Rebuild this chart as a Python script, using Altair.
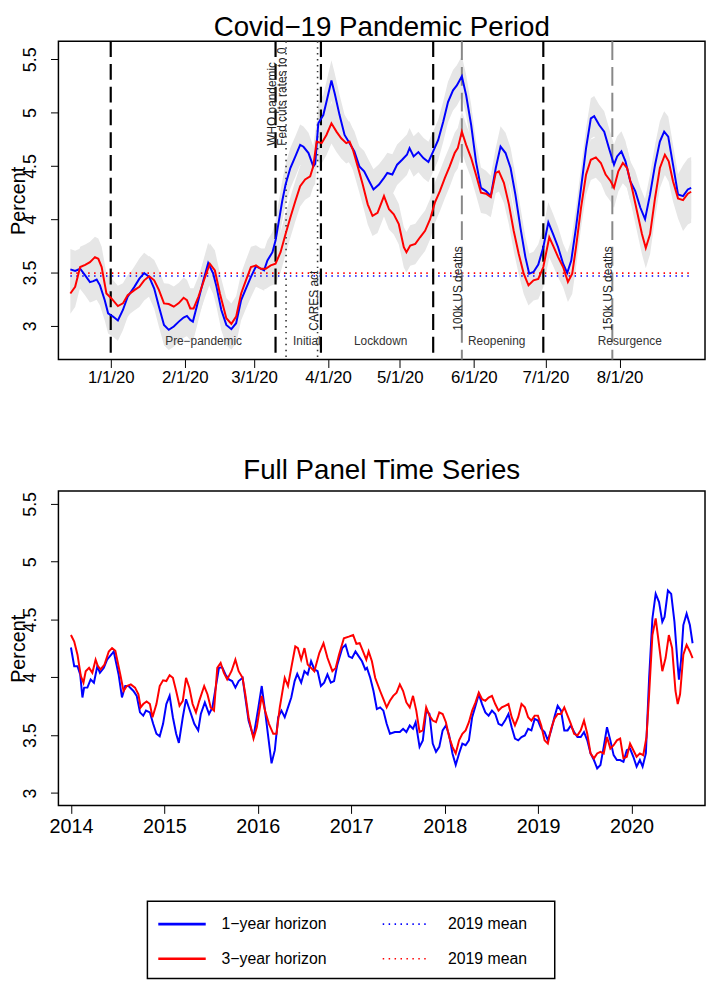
import altair as alt
import pandas as pd

FONT = "Liberation Sans"

# ---------------- Top panel: days since 2020-01-01 ----------------
top_tick_days = [0, 31, 60, 91, 121, 152, 182, 213]
top_tick_labels = ["1/1/20", "2/1/20", "3/1/20", "4/1/20", "5/1/20", "6/1/20", "7/1/20", "8/1/20"]

blue_days = [-16.9, -14.9, -12.8, -10.7, -8.7, -7.3, -5.9, -4.5, -2.5, -1.1, 0.95, 3.0, 5.1, 7.1, 9.9,
             12.0, 14.0, 16.1, 18.2, 20.2, 22.3, 24.3, 26.4, 28.5, 30.5, 31.9, 33.3, 34.4, 36.0, 38.8,
             40.8, 42.9, 44.3, 46.3, 48.4, 50.5, 52.5, 54.6, 56.6, 58.7, 60.8, 62.8, 64.2, 65.6, 67.7,
             69.0, 70.4, 71.8, 73.2, 75.2, 77.3, 79.3, 80.7, 82.8, 84.8, 85.6, 86.9, 89.0, 90.3, 92.4,
             93.8, 95.8, 97.9, 100.0, 102.0, 104.1, 106.1, 108.2, 110.0, 112.3, 114.4, 115.8, 117.9,
             119.9, 122.0, 124.0, 125.1, 126.8, 128.8, 130.9, 133.0, 135.0, 137.1, 139.2, 141.2, 143.3,
             144.9, 147.0, 148.8, 150.9, 152.9, 155.0, 157.1, 159.1, 161.2, 163.2, 165.3, 167.4, 169.4,
             171.5, 173.6, 175.2, 177.0, 179.0, 181.1, 183.2, 185.2, 187.3, 189.4, 191.1, 192.8, 194.8,
             196.9, 199.0, 201.0, 202.4, 204.5, 206.6, 208.6, 210.7, 212.0, 213.8, 215.5, 217.5, 219.6,
             221.7, 223.7, 225.8, 227.9, 229.9, 231.7, 233.4, 235.4, 237.5, 239.6, 241.6, 243.0]
blue_vals = [3.53, 3.515, 3.536, 3.474, 3.41, 3.42, 3.434, 3.38, 3.24, 3.118, 3.087, 3.05, 3.149, 3.273, 3.366,
             3.443, 3.496, 3.459, 3.35, 3.18, 3.009, 2.963, 2.994, 3.04, 3.078, 3.093, 3.056, 3.04, 3.18, 3.427,
             3.59, 3.49, 3.366, 3.149, 3.009, 2.969, 3.025, 3.242, 3.35, 3.459, 3.558, 3.536, 3.52, 3.613, 3.691,
             3.80, 3.985, 4.171, 4.326, 4.481, 4.589, 4.698, 4.68, 4.621, 4.496, 4.52, 4.90, 4.977, 5.10, 5.302,
             5.178, 4.977, 4.791, 4.714, 4.636, 4.496, 4.45, 4.357, 4.28, 4.326, 4.388, 4.434, 4.42,
             4.512, 4.558, 4.605, 4.667, 4.589, 4.63, 4.574, 4.537, 4.636, 4.744, 4.915, 5.10, 5.209,
             5.255, 5.342, 5.163, 4.884, 4.543, 4.295, 4.264, 4.217, 4.481, 4.682, 4.621, 4.481, 4.233,
             3.924, 3.645, 3.49, 3.505, 3.575, 3.738, 3.97, 3.861, 3.738, 3.583, 3.496, 3.613, 3.924,
             4.295, 4.667, 4.946, 4.967, 4.884, 4.822, 4.667, 4.512, 4.589, 4.636, 4.543, 4.357, 4.264,
             4.11, 4.001, 4.233, 4.512, 4.729, 4.822, 4.775, 4.512, 4.233, 4.217, 4.28, 4.295]

red_days = [-16.9, -14.9, -12.8, -10.7, -8.7, -6.6, -5.2, -3.8, -1.8, 0.3, 3.0, 5.1, 7.1, 9.9, 12.0,
            14.0, 16.1, 18.2, 20.2, 22.3, 24.3, 26.4, 28.5, 30.5, 31.9, 33.3, 34.7, 36.7, 39.5, 41.5,
            43.6, 45.7, 48.4, 50.5, 52.5, 54.6, 56.6, 58.7, 60.8, 62.8, 64.9, 67.0, 69.0, 71.1, 73.2,
            75.2, 77.3, 79.3, 81.4, 83.5, 84.8, 86.2, 88.3, 90.3, 92.4, 94.5, 96.5, 98.6, 100.0, 101.4,
            103.4, 105.5, 107.6, 109.6, 111.7, 114.4, 116.5, 118.5, 120.6, 122.7, 123.8, 125.4, 127.5,
            129.5, 131.6, 133.7, 135.7, 137.8, 139.9, 141.9, 144.0, 145.3, 147.0, 148.8, 150.9, 152.9,
            155.0, 157.1, 159.1, 161.2, 162.5, 164.6, 166.7, 168.7, 170.8, 172.9, 174.9, 177.0, 179.0,
            181.1, 183.6, 185.2, 187.3, 189.4, 191.4, 193.2, 194.8, 196.9, 199.0, 201.0, 203.1, 205.2,
            207.2, 209.3, 210.7, 212.5, 214.4, 216.2, 218.2, 220.3, 222.4, 224.0, 225.8, 227.9, 229.9,
            232.0, 233.6, 235.4, 237.5, 239.6, 241.6, 243.0]
red_vals = [3.304, 3.366, 3.552, 3.573, 3.598, 3.645, 3.629, 3.552, 3.304, 3.257, 3.186, 3.211, 3.288, 3.335, 3.366,
            3.427, 3.465, 3.427, 3.335, 3.211, 3.205, 3.18, 3.214, 3.264, 3.242, 3.164, 3.164, 3.273, 3.459, 3.583,
            3.52, 3.304, 3.072, 3.019, 3.087, 3.304, 3.427, 3.552, 3.567, 3.536, 3.536, 3.567, 3.583, 3.691, 3.861,
            4.017, 4.171, 4.31, 4.373, 4.403, 4.496, 4.729, 4.714, 4.791, 4.90, 4.822, 4.76, 4.714, 4.729, 4.652,
            4.496, 4.326, 4.14, 4.032, 4.06, 4.217, 4.094, 4.047, 3.954, 3.738, 3.691, 3.753, 3.769,
            3.831, 3.892, 4.001, 4.156, 4.264, 4.388, 4.496, 4.621, 4.667, 4.822, 4.698, 4.574, 4.419,
            4.249, 4.24, 4.208, 4.435, 4.45, 4.342, 4.14, 3.892, 3.676, 3.49, 3.381, 3.427, 3.44,
            3.552, 3.831, 3.753, 3.645, 3.552, 3.413, 3.49, 3.738, 4.11, 4.419, 4.558, 4.58, 4.528,
            4.419, 4.357, 4.295, 4.45, 4.528, 4.481, 4.295, 4.078, 3.861, 3.731, 3.861, 4.202, 4.481,
            4.605, 4.543, 4.357, 4.196, 4.18, 4.24, 4.258]

ci_half = 0.19          # half-width of the grey confidence band
ci_half_end = 0.29      # wider band over the last few days
ci_end_from = 238

mean_2019_1y = 3.468
mean_2019_3y = 3.495

phase_line_days = [0, 69.0, 88.0, 135.0, 181.1]     # black dashed
policy_line_days = [73.4, 86.6]                      # black dotted
death_line_days = [147.0, 210.0]                     # grey dashed

event_labels = ["WHO pandemic", "Fed cuts rates to 0", "CARES act", "100k US deaths", "150k US deaths"]
event_label_days = [69.0, 73.4, 86.6, 147.0, 210.0]
event_label_vals = [4.69, 4.69, 2.955, 2.955, 2.955]

phase_labels = ["Pre\u2212pandemic", "Initial", "Lockdown", "Reopening", "Resurgence"]
phase_label_days = [38.9, 82.1, 113.0, 161.6, 217.3]
phase_label_val = 2.855

# ---------------- Bottom panel: decimal years ----------------
full_blue_years = [2014.000, 2014.035, 2014.070, 2014.099, 2014.123, 2014.141, 2014.176, 2014.211, 2014.246,
                   2014.282, 2014.310, 2014.352, 2014.387, 2014.440, 2014.458, 2014.510, 2014.546, 2014.581,
                   2014.616, 2014.669, 2014.704, 2014.739, 2014.774, 2014.803, 2014.845, 2014.880, 2014.915,
                   2014.950, 2014.986, 2015.021, 2015.056, 2015.091, 2015.126, 2015.155, 2015.197, 2015.232,
                   2015.285, 2015.320, 2015.362, 2015.390, 2015.433, 2015.478, 2015.514, 2015.549, 2015.584,
                   2015.619, 2015.654, 2015.690, 2015.725, 2015.760, 2015.795, 2015.837, 2015.866, 2015.901,
                   2015.954, 2016.006, 2016.042, 2016.077, 2016.112, 2016.147, 2016.182, 2016.218, 2016.253,
                   2016.288, 2016.323, 2016.358, 2016.394, 2016.422, 2016.464, 2016.499, 2016.534, 2016.570,
                   2016.605, 2016.640, 2016.675, 2016.710, 2016.745, 2016.781, 2016.816, 2016.851, 2016.904,
                   2016.939, 2016.974, 2017.009, 2017.045, 2017.080, 2017.115, 2017.150, 2017.168, 2017.203,
                   2017.238, 2017.274, 2017.309, 2017.344, 2017.379, 2017.414, 2017.467, 2017.520, 2017.555,
                   2017.590, 2017.626, 2017.661, 2017.689, 2017.731, 2017.766, 2017.802, 2017.837, 2017.872,
                   2017.907, 2017.942, 2017.978, 2018.013, 2018.048, 2018.083, 2018.118, 2018.154, 2018.189,
                   2018.224, 2018.259, 2018.294, 2018.330, 2018.365, 2018.400, 2018.435, 2018.470, 2018.506,
                   2018.541, 2018.576, 2018.611, 2018.646, 2018.682, 2018.717, 2018.752, 2018.787, 2018.822,
                   2018.858, 2018.893, 2018.928, 2018.963, 2018.998, 2019.033, 2019.069, 2019.104, 2019.139,
                   2019.174, 2019.209, 2019.245, 2019.280, 2019.315, 2019.350, 2019.385, 2019.421, 2019.456,
                   2019.491, 2019.526, 2019.561, 2019.597, 2019.632, 2019.667, 2019.702, 2019.737, 2019.773,
                   2019.808, 2019.843, 2019.878, 2019.913, 2019.949, 2019.984, 2020.019, 2020.054, 2020.089,
                   2020.118, 2020.153, 2020.188, 2020.223, 2020.258, 2020.294, 2020.329, 2020.353, 2020.389,
                   2020.424, 2020.459, 2020.494, 2020.507, 2020.530, 2020.554, 2020.589, 2020.624, 2020.653]
full_blue_vals = [4.258, 4.096, 4.096, 4.025, 3.826, 3.911, 3.911, 3.982, 3.954,
                  4.096, 4.039, 4.082, 4.153, 4.204, 4.224, 4.025, 3.826, 3.925,
                  3.925, 3.882, 3.840, 3.697, 3.669, 3.712, 3.697, 3.598, 3.512,
                  3.490, 3.598, 3.769, 3.840, 3.655, 3.512, 3.433, 3.655, 3.811,
                  3.683, 3.598, 3.541, 3.683, 3.783, 3.683, 3.740, 3.911, 4.082,
                  4.087, 4.025, 3.982, 3.968, 3.911, 3.968, 3.996, 3.826, 3.626,
                  3.484, 3.740, 3.925, 3.712, 3.484, 3.256, 3.370, 3.655, 3.712,
                  3.655, 3.740, 3.826, 3.968, 4.030, 3.954, 4.053, 4.025, 4.139,
                  4.068, 4.053, 3.925, 3.954, 4.025, 3.954, 3.968, 4.110, 4.253,
                  4.281, 4.181, 4.167, 4.224, 4.181, 4.139, 4.068, 4.082, 3.996,
                  3.882, 3.726, 3.740, 3.712, 3.598, 3.512, 3.527, 3.527, 3.555,
                  3.527, 3.584, 3.555, 3.612, 3.399, 3.455, 3.712, 3.683, 3.427,
                  3.356, 3.399, 3.541, 3.584, 3.498, 3.342, 3.242, 3.342, 3.427,
                  3.413, 3.455, 3.655, 3.754, 3.854, 3.769, 3.697, 3.669, 3.712,
                  3.683, 3.598, 3.584, 3.626, 3.683, 3.569, 3.470, 3.455, 3.484,
                  3.498, 3.555, 3.541, 3.640, 3.626, 3.555, 3.527, 3.455, 3.541,
                  3.655, 3.754, 3.712, 3.541, 3.541, 3.584, 3.527, 3.484, 3.484,
                  3.527, 3.455, 3.342, 3.285, 3.213, 3.242, 3.399, 3.569, 3.455,
                  3.327, 3.285, 3.285, 3.270, 3.370, 3.384, 3.313, 3.228, 3.285,
                  3.228, 3.342, 3.996, 4.509, 4.722, 4.651, 4.480, 4.523, 4.751,
                  4.722, 4.480, 4.100, 3.980, 4.150, 4.452, 4.551, 4.452, 4.295]

full_red_years = [2014.000, 2014.035, 2014.070, 2014.106, 2014.134, 2014.158, 2014.194, 2014.229, 2014.264,
                  2014.289, 2014.317, 2014.359, 2014.405, 2014.440, 2014.475, 2014.528, 2014.563, 2014.598,
                  2014.641, 2014.686, 2014.722, 2014.746, 2014.774, 2014.810, 2014.845, 2014.873, 2014.915,
                  2014.950, 2014.986, 2015.021, 2015.056, 2015.091, 2015.126, 2015.162, 2015.197, 2015.232,
                  2015.267, 2015.302, 2015.338, 2015.373, 2015.426, 2015.461, 2015.496, 2015.531, 2015.566,
                  2015.602, 2015.637, 2015.672, 2015.718, 2015.760, 2015.795, 2015.837, 2015.866, 2015.901,
                  2015.954, 2015.989, 2016.042, 2016.077, 2016.119, 2016.165, 2016.200, 2016.235, 2016.288,
                  2016.323, 2016.358, 2016.401, 2016.429, 2016.464, 2016.499, 2016.534, 2016.570, 2016.605,
                  2016.658, 2016.703, 2016.746, 2016.798, 2016.834, 2016.869, 2016.921, 2016.974, 2017.020,
                  2017.055, 2017.090, 2017.126, 2017.161, 2017.186, 2017.221, 2017.256, 2017.309, 2017.344,
                  2017.379, 2017.414, 2017.449, 2017.485, 2017.520, 2017.555, 2017.590, 2017.626, 2017.661,
                  2017.696, 2017.731, 2017.766, 2017.802, 2017.837, 2017.872, 2017.907, 2017.942, 2017.978,
                  2018.013, 2018.048, 2018.083, 2018.118, 2018.154, 2018.189, 2018.224, 2018.259, 2018.294,
                  2018.330, 2018.365, 2018.400, 2018.435, 2018.470, 2018.506, 2018.541, 2018.576, 2018.611,
                  2018.646, 2018.682, 2018.717, 2018.752, 2018.787, 2018.822, 2018.858, 2018.893, 2018.928,
                  2018.963, 2018.998, 2019.033, 2019.069, 2019.104, 2019.139, 2019.174, 2019.209, 2019.245,
                  2019.280, 2019.315, 2019.350, 2019.385, 2019.421, 2019.456, 2019.491, 2019.526, 2019.561,
                  2019.597, 2019.632, 2019.667, 2019.702, 2019.737, 2019.773, 2019.808, 2019.843, 2019.878,
                  2019.913, 2019.949, 2019.984, 2020.019, 2020.054, 2020.089, 2020.125, 2020.160, 2020.188,
                  2020.223, 2020.258, 2020.294, 2020.329, 2020.364, 2020.399, 2020.434, 2020.470, 2020.494,
                  2020.519, 2020.554, 2020.589, 2020.624, 2020.653]
full_red_vals = [4.366, 4.309, 4.196, 4.011, 3.954, 4.053, 4.082, 4.039, 4.153,
                 4.096, 4.068, 4.110, 4.224, 4.253, 4.230, 4.025, 3.882, 3.925,
                 3.939, 3.911, 3.854, 3.740, 3.769, 3.791, 3.769, 3.655, 3.769,
                 3.925, 3.974, 3.968, 4.019, 3.996, 3.882, 3.754, 3.797, 3.996,
                 3.911, 3.769, 3.697, 3.797, 3.925, 3.854, 3.740, 3.712, 4.082,
                 4.124, 4.039, 3.982, 4.053, 4.153, 4.053, 3.996, 3.854, 3.655,
                 3.470, 3.569, 3.840, 3.712, 3.598, 3.512, 3.512, 3.740, 3.996,
                 3.925, 4.082, 4.267, 4.253, 4.153, 4.253, 4.110, 4.082, 4.053,
                 4.210, 4.295, 4.167, 4.053, 4.082, 4.196, 4.338, 4.352, 4.366,
                 4.290, 4.295, 4.224, 4.153, 4.224, 4.139, 3.996, 3.882, 3.811,
                 3.740, 3.797, 3.840, 3.868, 3.939, 3.882, 3.783, 3.740, 3.840,
                 3.712, 3.527, 3.541, 3.740, 3.669, 3.626, 3.612, 3.697, 3.683,
                 3.612, 3.484, 3.399, 3.342, 3.455, 3.512, 3.541, 3.612, 3.712,
                 3.783, 3.868, 3.811, 3.797, 3.825, 3.840, 3.769, 3.712, 3.740,
                 3.754, 3.769, 3.655, 3.584, 3.655, 3.769, 3.740, 3.655, 3.626,
                 3.669, 3.669, 3.584, 3.455, 3.427, 3.555, 3.640, 3.683, 3.683,
                 3.740, 3.669, 3.598, 3.512, 3.498, 3.541, 3.626, 3.512, 3.342,
                 3.299, 3.342, 3.356, 3.342, 3.484, 3.384, 3.413, 3.455, 3.470,
                 3.299, 3.313, 3.427, 3.370, 3.313, 3.342, 3.327, 3.484, 3.854,
                 4.366, 4.509, 4.281, 4.053, 4.167, 4.366, 4.253, 3.882, 3.769,
                 3.854, 4.196, 4.281, 4.224, 4.167]

full_tick_years = [2014, 2015, 2016, 2017, 2018, 2019, 2020]
y_ticks = [3, 3.5, 4, 4.5, 5, 5.5]

titles = ["Covid\u221219 Pandemic Period", "Full Panel Time Series"]
series_names = ["1-year horizon", "3-year horizon"]
series_colors = ["#0000ff", "#ff0000"]
legend_labels = ["1\u2212year horizon", "3\u2212year horizon", "2019 mean", "2019 mean"]

# ---------------- tables ----------------
top_df = pd.concat([
    pd.DataFrame({"day": blue_days, "value": blue_vals, "series": series_names[0]}),
    pd.DataFrame({"day": red_days, "value": red_vals, "series": series_names[1]}),
], ignore_index=True)
top_df["hw"] = [ci_half_end if d >= ci_end_from else ci_half for d in top_df["day"]]
top_df["lo"] = top_df["value"] - top_df["hw"]
top_df["hi"] = top_df["value"] + top_df["hw"]

day_min = min(blue_days[0], red_days[0])
day_max = max(blue_days[-1], red_days[-1])
means_df = pd.DataFrame({"day": [day_min, day_min], "day_end": [day_max, day_max],
                         "value": [mean_2019_1y, mean_2019_3y], "series": series_names})

full_df = pd.concat([
    pd.DataFrame({"year": full_blue_years, "value": full_blue_vals, "series": series_names[0]}),
    pd.DataFrame({"year": full_red_years, "value": full_red_vals, "series": series_names[1]}),
], ignore_index=True)

color_scale = alt.Scale(domain=series_names, range=series_colors)
one_row = pd.DataFrame({"k": [0]})

# ---------------- axes ----------------
label_expr = ("[" + ",".join("'%s'" % l for l in top_tick_labels) + "][indexof(["
              + ",".join(str(d) for d in top_tick_days) + "], datum.value)]")

common_axis = dict(domain=False, grid=False, ticks=True, tickColor="black", tickSize=8, tickWidth=1,
                   labelColor="black", labelFont=FONT, labelFlush=False, labelOverlap=False)

top_x_axis = alt.Axis(values=top_tick_days, labelExpr=label_expr, labelFontSize=17, labelPadding=2,
                      title=None, **common_axis)
TOP_H = 322
BOT_H = 318
W = 654


def y_axis(h):
    return alt.Axis(values=y_ticks, format="~g", labelAngle=270, labelAlign="center",
                    labelBaseline="middle", labelPadding=20, labelFontSize=18,
                    title="Percent", titleFont=FONT, titleFontSize=20, titleFontWeight="normal",
                    titleColor="black", titleAngle=270, titleAlign="center", titleBaseline="top",
                    titleX=-50, titleY=h / 2, **common_axis)


def panel_title(text, baseline_offset, size):
    # title text placed just above the plot frame
    return alt.Chart(one_row).mark_text(
        align="center", baseline="alphabetic", fontSize=size, font=FONT, color="black").encode(
        x=alt.value(W / 2), y=alt.value(-baseline_offset), text=alt.value(text))


top_yscale = alt.Scale(domain=[2.684, 5.670], nice=False, zero=False)
xt = alt.X("day:Q", scale=alt.Scale(domain=[-21.9, 248.8], nice=False, zero=False), axis=top_x_axis)
yt = alt.Y("value:Q", scale=top_yscale, axis=y_axis(TOP_H))

band = alt.Chart(top_df).mark_area(color="#e6e6e6", opacity=1).encode(
    x=xt, y=alt.Y("lo:Q", scale=top_yscale, axis=y_axis(TOP_H)), y2="hi:Q", detail="series:N")

mean_rules = alt.Chart(means_df).mark_rule(strokeWidth=1.6, strokeDash=[1.5, 4.5]).encode(
    x=xt, x2="day_end:Q", y=yt, color=alt.Color("series:N", scale=color_scale, legend=None))

phase_rules = alt.Chart(pd.DataFrame({"day": phase_line_days})).mark_rule(
    color="black", strokeWidth=2.2, strokeDash=[16, 7]).encode(x=xt)
policy_rules = alt.Chart(pd.DataFrame({"day": policy_line_days})).mark_rule(
    color="#333333", strokeWidth=1.6, strokeDash=[1.5, 4.5]).encode(x=xt)
death_rules = alt.Chart(pd.DataFrame({"day": death_line_days})).mark_rule(
    color="#888888", strokeWidth=2, strokeDash=[19, 7]).encode(x=xt)

top_lines = alt.Chart(top_df).mark_line(strokeWidth=2).encode(
    x=xt, y=yt, color=alt.Color("series:N", scale=color_scale, legend=None))

event_text = alt.Chart(pd.DataFrame({"day": event_label_days, "value": event_label_vals,
                                     "label": event_labels})).mark_text(
    angle=270, align="left", baseline="alphabetic", fontSize=12, font=FONT, color="#222222").encode(
    x=xt, y=yt, text="label:N")

phase_text = alt.Chart(pd.DataFrame({"day": phase_label_days, "value": [phase_label_val] * len(phase_labels),
                                     "label": phase_labels})).mark_text(
    align="center", baseline="middle", fontSize=12, font=FONT, color="#333333").encode(
    x=xt, y=yt, text="label:N")

top = alt.layer(band, mean_rules, phase_rules, policy_rules, death_rules, top_lines,
                event_text, phase_text, panel_title(titles[0], 5, 28)).properties(width=W, height=TOP_H)

# ---------------- bottom panel ----------------
xb = alt.X("year:Q", scale=alt.Scale(domain=[2013.866, 2020.786], nice=False, zero=False),
           axis=alt.Axis(values=full_tick_years, format="d", labelFontSize=20, labelPadding=3,
                         title=None, **common_axis))
yb = alt.Y("value:Q", scale=alt.Scale(domain=[2.892, 5.611], nice=False, zero=False), axis=y_axis(BOT_H))

bottom_lines = alt.Chart(full_df).mark_line(strokeWidth=2).encode(
    x=xb, y=yb, color=alt.Color("series:N", scale=color_scale, legend=None))
bottom = alt.layer(bottom_lines, panel_title(titles[1], 12, 28)).properties(width=W, height=BOT_H)

# ---------------- legend box ----------------
hidden_view = alt.ViewBackground(strokeOpacity=0)
legend_box = alt.Chart(one_row).mark_rect(
    fill="white", stroke="black", strokeWidth=1.5).encode(
    x=alt.value(90), x2=alt.value(502), y=alt.value(65), y2=alt.value(143))
leg_layers = [legend_box]
rows_y = [88, 123]
for i in range(2):
    leg_layers.append(alt.Chart(one_row).mark_rule(
        color=series_colors[i], strokeWidth=2.6).encode(
        x=alt.value(101), x2=alt.value(149), y=alt.value(rows_y[i])))
    leg_layers.append(alt.Chart(one_row).mark_text(
        align="left", baseline="middle", fontSize=16, font=FONT, color="black").encode(
        x=alt.value(165), y=alt.value(rows_y[i]), text=alt.value(legend_labels[i])))
    leg_layers.append(alt.Chart(one_row).mark_rule(
        color=series_colors[i], strokeWidth=1.6, strokeDash=[1.5, 4.5]).encode(
        x=alt.value(328), x2=alt.value(376), y=alt.value(rows_y[i])))
    leg_layers.append(alt.Chart(one_row).mark_text(
        align="left", baseline="middle", fontSize=16, font=FONT, color="black").encode(
        x=alt.value(394), y=alt.value(rows_y[i]), text=alt.value(legend_labels[i + 2])))

legend = alt.layer(*leg_layers).properties(width=W, height=144, view=hidden_view)

chart = alt.vconcat(alt.vconcat(top, bottom, spacing=71), legend, spacing=0).properties(
    padding=0
).configure(font=FONT).configure_view(stroke="black", strokeWidth=1.5)

chart.save("out.html", embed_options={"renderer": "svg", "actions": False})
